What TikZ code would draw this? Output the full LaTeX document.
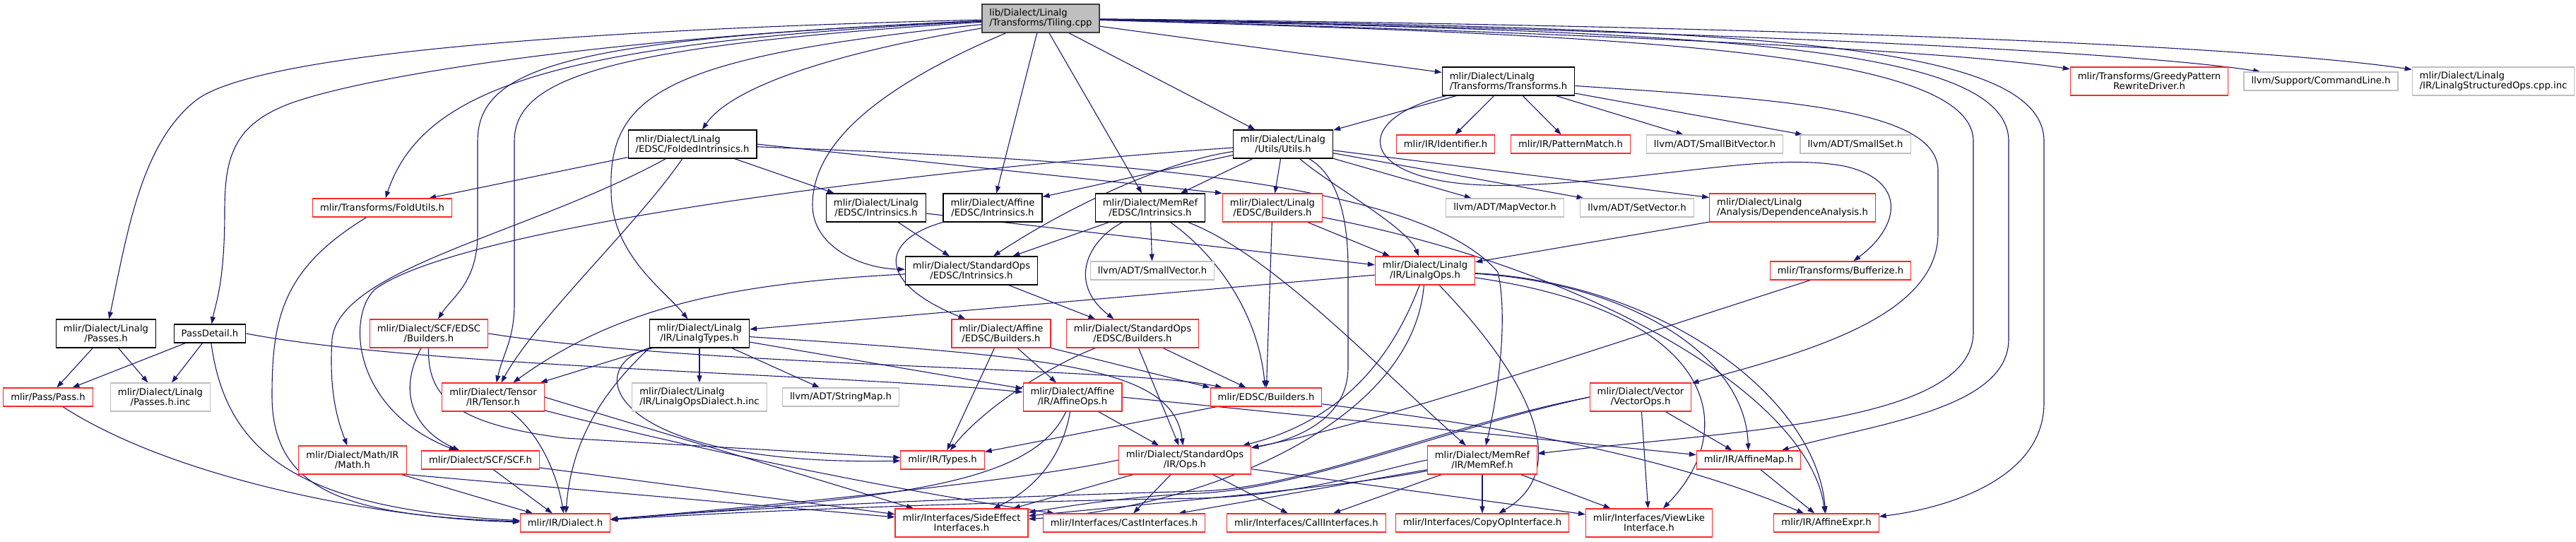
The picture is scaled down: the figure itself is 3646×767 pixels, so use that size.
\documentclass[tikz,border=0pt]{standalone}
\usepackage{fontspec}
\setmainfont{DejaVu Sans}
\usetikzlibrary{arrows.meta}
\pgfdeclarelayer{bg}
\pgfsetlayers{bg,main}
\definecolor{edgec}{RGB}{25,25,112}
\definecolor{redb}{RGB}{255,40,40}
\definecolor{grayb}{RGB}{191,191,191}
\definecolor{tilfill}{RGB}{191,191,191}
\definecolor{darkb}{RGB}{64,64,64}
\newdimen\twolw
\newcommand\twol[2]{\setbox0\hbox{#1}\setbox2\hbox{#2}\twolw=\wd0 \ifdim\wd2>\twolw \twolw=\wd2 \fi\vbox{\baselineskip=14pt\lineskiplimit=-100pt\hbox to\twolw{\box0\hfil}\hbox to\twolw{\hfil\box2\hfil}}}
\tikzset{
 nd/.style={draw, line width=1.1pt, fill=white, inner xsep=10.5pt, inner ysep=0pt, minimum height=26pt, text=black},
 bk/.style={nd, draw=black},
 rd/.style={nd, draw=redb},
 gy/.style={nd, draw=grayb},
 tl/.style={nd, draw=darkb, fill=tilfill},
 two/.style={minimum height=40pt},
 ed/.style={draw=edgec, line width=1.1pt, -{Triangle[length=10pt,width=7pt]}},
}
\begin{document}
\begin{tikzpicture}[x=1pt,y=-1pt,font=\fontsize{13.2pt}{14pt}\selectfont]
\useasboundingbox (0,0) rectangle (3646,767);
\node[tl,two] (tiling) at (1473,26) {\twol{lib/Dialect/Linalg}{/Transforms/Tiling.cpp}};
\node[bk,two] (transforms) at (2135,115) {\twol{mlir/Dialect/Linalg}{/Transforms/Transforms.h}};
\node[rd,two] (greedy) at (3042,115) {\twol{mlir/Transforms/GreedyPattern}{RewriteDriver.h}};
\node[gy] (cmdline) at (3285,115) {llvm/Support/CommandLine.h};
\node[gy,two] (structops) at (3529,115) {\twol{mlir/Dialect/Linalg}{/IR/LinalgStructuredOps.cpp.inc}};
\node[bk,two] (folded) at (980,204) {\twol{mlir/Dialect/Linalg}{/EDSC/FoldedIntrinsics.h}};
\node[bk,two] (utils) at (1816,204) {\twol{mlir/Dialect/Linalg}{/Utils/Utils.h}};
\node[rd] (identifier) at (2046,204) {mlir/IR/Identifier.h};
\node[rd] (patmatch) at (2223,204) {mlir/IR/PatternMatch.h};
\node[gy] (smallbv) at (2427,204) {llvm/ADT/SmallBitVector.h};
\node[gy] (smallset) at (2626,204) {llvm/ADT/SmallSet.h};
\node[rd] (foldutils) at (541,294) {mlir/Transforms/FoldUtils.h};
\node[bk,two] (lintr) at (1240,294) {\twol{mlir/Dialect/Linalg}{/EDSC/Intrinsics.h}};
\node[bk,two] (affintr) at (1405,294) {\twol{mlir/Dialect/Affine}{/EDSC/Intrinsics.h}};
\node[bk,two] (memintr) at (1628,294) {\twol{mlir/Dialect/MemRef}{/EDSC/Intrinsics.h}};
\node[rd,two] (linbld) at (1801,294) {\twol{mlir/Dialect/Linalg}{/EDSC/Builders.h}};
\node[gy] (mapvec) at (2130,294) {llvm/ADT/MapVector.h};
\node[gy] (setvec) at (2317,294) {llvm/ADT/SetVector.h};
\node[rd,two] (depan) at (2537,294) {\twol{mlir/Dialect/Linalg}{/Analysis/DependenceAnalysis.h}};
\node[bk,two] (stdintr) at (1375,383) {\twol{mlir/Dialect/StandardOps}{/EDSC/Intrinsics.h}};
\node[gy] (smallvec) at (1631,383) {llvm/ADT/SmallVector.h};
\node[rd,two] (linops) at (2017,383) {\twol{mlir/Dialect/Linalg}{/IR/LinalgOps.h}};
\node[rd] (bufferize) at (2605,383) {mlir/Transforms/Bufferize.h};
\node[bk,two] (passes) at (150,472) {\twol{mlir/Dialect/Linalg}{/Passes.h}};
\node[bk] (passdetail) at (297,472) {PassDetail.h};
\node[rd,two] (scfbld) at (607,472) {\twol{mlir/Dialect/SCF/EDSC}{/Builders.h}};
\node[bk,two] (lintypes) at (990,472) {\twol{mlir/Dialect/Linalg}{/IR/LinalgTypes.h}};
\node[rd,two] (affbld) at (1417,472) {\twol{mlir/Dialect/Affine}{/EDSC/Builders.h}};
\node[rd,two] (stdbld) at (1603,472) {\twol{mlir/Dialect/StandardOps}{/EDSC/Builders.h}};
\node[rd] (pass) at (68,562) {mlir/Pass/Pass.h};
\node[gy,two] (passesinc) at (227,562) {\twol{mlir/Dialect/Linalg}{/Passes.h.inc}};
\node[rd,two] (tensor) at (698,562) {\twol{mlir/Dialect/Tensor}{/IR/Tensor.h}};
\node[gy,two] (dialectinc) at (990,562) {\twol{mlir/Dialect/Linalg}{/IR/LinalgOpsDialect.h.inc}};
\node[gy] (stringmap) at (1190,562) {llvm/ADT/StringMap.h};
\node[rd,two] (affops) at (1518,562) {\twol{mlir/Dialect/Affine}{/IR/AffineOps.h}};
\node[rd] (edscbld) at (1792,562) {mlir/EDSC/Builders.h};
\node[rd,two] (vecops) at (2322,562) {\twol{mlir/Dialect/Vector}{/VectorOps.h}};
\node[rd,two] (math) at (499,651) {\twol{mlir/Dialect/Math/IR}{/Math.h}};
\node[rd] (scf) at (680,651) {mlir/Dialect/SCF/SCF.h};
\node[rd] (types) at (1334,651) {mlir/IR/Types.h};
\node[rd,two] (stdops) at (1677,651) {\twol{mlir/Dialect/StandardOps}{/IR/Ops.h}};
\node[rd,two] (memref) at (2098,651) {\twol{mlir/Dialect/MemRef}{/IR/MemRef.h}};
\node[rd] (affmap) at (2475,651) {mlir/IR/AffineMap.h};
\node[rd] (dialect) at (800,740) {mlir/IR/Dialect.h};
\node[rd,two] (sideeff) at (1361,740) {\twol{mlir/Interfaces/SideEffect}{Interfaces.h}};
\node[rd] (cast) at (1591,740) {mlir/Interfaces/CastInterfaces.h};
\node[rd] (call) at (1849,740) {mlir/Interfaces/CallInterfaces.h};
\node[rd] (copyop) at (2098,740) {mlir/Interfaces/CopyOpInterface.h};
\node[rd,two] (viewlike) at (2334,740) {\twol{mlir/Interfaces/ViewLike}{Interface.h}};
\node[rd] (affexpr) at (2585,740) {mlir/IR/AffineExpr.h};
\begin{pgfonlayer}{bg}
% Tiling.cpp
\draw[ed] (tiling) .. controls (900,40) and (380,70) .. (280,140) .. controls (200,200) and (180,330) .. (passes);
\draw[ed] (tiling) .. controls (900,50) and (560,100) .. (430,140) .. controls (330,170) and (318,220) .. (318,300) .. controls (318,400) and (305,430) .. (passdetail);
\draw[ed] (tiling) .. controls (800,60) and (600,120) .. (foldutils);
\draw[ed] (tiling) .. controls (820,55) and (676,90) .. (676,200) -- (676,330) .. controls (676,400) and (640,420) .. (scfbld);
\draw[ed] (tiling) .. controls (860,65) and (728,110) .. (728,200) -- (728,430) .. controls (728,480) and (712,500) .. (tensor);
\draw[ed] (tiling) .. controls (950,80) and (860,130) .. (865,270) .. controls (865,360) and (940,410) .. (lintypes);
\draw[ed] (tiling) .. controls (1150,80) and (1030,130) .. (folded);
\draw[ed] (tiling) .. controls (1250,120) and (1150,200) .. (1150,290) .. controls (1150,350) and (1220,380) .. (stdintr);
\draw[ed] (tiling) -- (affintr);
\draw[ed] (tiling) -- (memintr);
\draw[ed] (tiling) -- (utils);
\draw[ed] (tiling) -- (transforms);
\draw[ed] (tiling) .. controls (2200,45) and (2750,70) .. (greedy);
\draw[ed] (tiling) .. controls (2300,40) and (3000,70) .. (cmdline);
\draw[ed] (tiling) .. controls (2400,35) and (3150,60) .. (structops);
\draw[ed] (tiling) .. controls (2300,50) and (2793,70) .. (2793,200) -- (2793,470) .. controls (2793,600) and (2450,610) .. (memref);
\draw[ed] (tiling) .. controls (2400,45) and (2843,60) .. (2843,200) -- (2843,480) .. controls (2843,580) and (2650,600) .. (affmap);
\draw[ed] (tiling) .. controls (2450,40) and (2893,55) .. (2893,200) -- (2893,570) .. controls (2893,680) and (2750,720) .. (affexpr);
% Transforms.h
\draw[ed] (transforms) -- (utils);
\draw[ed] (transforms) -- (identifier);
\draw[ed] (transforms) -- (patmatch);
\draw[ed] (transforms) -- (smallbv);
\draw[ed] (transforms) -- (smallset);
\draw[ed] (transforms) .. controls (1900,170) and (1920,270) .. (2150,262) .. controls (2350,255) and (2500,215) .. (2610,235) .. controls (2700,255) and (2690,320) .. (bufferize);
\draw[ed] (transforms) .. controls (2500,140) and (2740,150) .. (2743,240) -- (2743,330) .. controls (2743,450) and (2550,500) .. (vecops);
% Utils.h
\draw[ed] (utils) -- (affintr);
\draw[ed] (utils) .. controls (1640,230) and (1500,300) .. (stdintr);
\draw[ed] (utils) .. controls (1300,240) and (650,320) .. (530,410) .. controls (490,450) and (500,580) .. (scf);
\draw[ed] (utils) -- (linbld);
\draw[ed] (utils) -- (memintr);
\draw[ed] (utils) .. controls (1880,260) and (1990,320) .. (linops);
\draw[ed] (utils) .. controls (1880,240) and (1908,280) .. (1908,380) -- (1908,520) .. controls (1908,600) and (1820,625) .. (stdops);
\draw[ed] (utils) -- (mapvec);
\draw[ed] (utils) -- (setvec);
\draw[ed] (utils) -- (depan);
% FoldedIntrinsics.h
\draw[ed] (folded) -- (foldutils);
\draw[ed] (folded) -- (lintr);
\draw[ed] (folded.east) -- (linbld.north west);
\draw[ed] (folded) .. controls (1500,225) and (2000,245) .. (2120,385) .. controls (2135,450) and (2120,560) .. (memref);
\draw[ed] (folded) .. controls (750,330) and (480,380) .. (470,480) .. controls (465,560) and (480,600) .. (math);
\draw[ed] (folded) .. controls (900,320) and (760,450) .. (tensor);
% EDSC intrinsics
\draw[ed] (lintr) -- (stdintr);
\draw[ed] (lintr) -- (linops);
\draw[ed] (affintr.south west) .. controls (1245,340) and (1240,400) .. (affbld);
\draw[ed] (memintr) -- (stdintr);
\draw[ed] (memintr) .. controls (1540,340) and (1510,400) .. (stdbld);
\draw[ed] (memintr) -- (smallvec);
\draw[ed] (memintr) .. controls (1800,360) and (1950,520) .. (memref);
\draw[ed] (memintr) .. controls (1720,360) and (1780,440) .. (edscbld);
\draw[ed] (linbld) -- (linops);
\draw[ed] (linbld) -- (edscbld);
\draw[ed] (linbld) .. controls (2250,380) and (2560,560) .. (affexpr);
\draw[ed] (depan) -- (linops);
\draw[ed] (stdintr) -- (stdbld);
\draw[ed] (stdintr) .. controls (1050,400) and (880,430) .. (tensor);
% LinalgOps.h
\draw[ed] (linops) -- (lintypes);
\draw[ed] (linops) .. controls (1980,480) and (1920,590) .. (stdops);
\draw[ed] (linops) .. controls (2000,600) and (1700,720) .. (sideeff);
\draw[ed] (linops) .. controls (2150,520) and (2235,660) .. (copyop);
\draw[ed] (linops) .. controls (2420,440) and (2470,600) .. (viewlike);
\draw[ed] (linops) .. controls (2300,400) and (2470,500) .. (affmap);
\draw[ed] (linops) .. controls (2350,400) and (2570,560) .. (affexpr);
\draw[ed] (bufferize) .. controls (2300,480) and (1950,600) .. (stdops);
% VectorOps.h
\draw[ed] (vecops) -- (viewlike);
\draw[ed] (vecops) -- (affmap);
\draw[ed] (vecops.west) .. controls (2050,600) and (1850,690) .. (1700,695) .. controls (1500,700) and (1100,715) .. (dialect);
\draw[ed] (vecops.west) .. controls (2050,605) and (1850,690) .. (1700,698) .. controls (1600,702) and (1520,715) .. (sideeff);
% MemRef.h
\draw[ed] (memref) -- (call);
\draw[ed] (memref) -- (copyop);
\draw[ed] (memref) -- (viewlike);
\draw[ed] (memref) -- (cast);
\draw[ed] (memref) .. controls (1900,690) and (1600,715) .. (sideeff);
\draw[ed] (memref.west) .. controls (1950,665) and (1850,700) .. (1700,705) .. controls (1500,708) and (1100,720) .. (dialect);
% StandardOps Ops.h
\draw[ed] (stdops.west) .. controls (1450,680) and (1100,715) .. (dialect);
\draw[ed] (stdops) -- (sideeff);
\draw[ed] (stdops) -- (cast);
\draw[ed] (stdops) -- (call);
\draw[ed] (stdops) -- (viewlike);
% AffineOps.h
\draw[ed] (affops) -- (stdops);
\draw[ed] (affops) .. controls (1505,640) and (1470,690) .. (sideeff);
\draw[ed] (affops) .. controls (1460,690) and (1250,705) .. (dialect);
\draw[ed] (affops.east) -- (affmap);
% EDSC builders
\draw[ed] (affbld) -- (types);
\draw[ed] (affbld) -- (affops);
\draw[ed] (affbld.south east) -- (edscbld.north west);
\draw[ed] (stdbld) .. controls (1480,520) and (1390,580) .. (types);
\draw[ed] (stdbld) -- (stdops);
\draw[ed] (stdbld) -- (edscbld);
\draw[ed] (edscbld) -- (types);
\draw[ed] (edscbld) .. controls (2100,600) and (2350,640) .. (affexpr);
\draw[ed] (scfbld) .. controls (560,560) and (590,610) .. (scf);
\draw[ed] (scfbld) .. controls (605,560) and (640,600) .. (800,620) -- (types);
\draw[ed] (scfbld.east) .. controls (1000,520) and (1600,520) .. (edscbld);
% LinalgTypes.h
\draw[ed] (lintypes) -- (dialectinc);
\draw[ed] (lintypes) -- (stringmap);
\draw[ed] (lintypes) -- (affops);
\draw[ed] (lintypes) .. controls (1500,505) and (1660,520) .. (stdops);
\draw[ed] (lintypes) -- (tensor);
\draw[ed] (lintypes.south west) .. controls (880,530) and (810,600) .. (dialect);
\draw[ed] (lintypes.south west) .. controls (820,520) and (860,660) .. (types);
% passes
\draw[ed] (passes) -- (pass);
\draw[ed] (passes) -- (passesinc);
\draw[ed] (passdetail) -- (pass);
\draw[ed] (passdetail) -- (passesinc);
\draw[ed] (passdetail) .. controls (320,640) and (420,720) .. (dialect);
\draw[ed] (passdetail.east) .. controls (600,520) and (1200,530) .. (affops);
\draw[ed] (pass) .. controls (250,680) and (550,735) .. (dialect);
% bottom
\draw[ed] (foldutils) .. controls (400,380) and (385,450) .. (385,560) .. controls (385,700) and (500,730) .. (dialect);
\draw[ed] (math) -- (dialect);
\draw[ed] (math.south east) -- (sideeff);
\draw[ed] (scf) -- (dialect);
\draw[ed] (scf) -- (sideeff);
\draw[ed] (tensor) .. controls (770,620) and (790,680) .. (dialect);
\draw[ed] (tensor.east) -- (sideeff);
\draw[ed] (tensor) .. controls (1000,640) and (1300,700) .. (cast);
\draw[ed] (affmap) -- (affexpr);
\end{pgfonlayer}
\end{tikzpicture}
\end{document}
